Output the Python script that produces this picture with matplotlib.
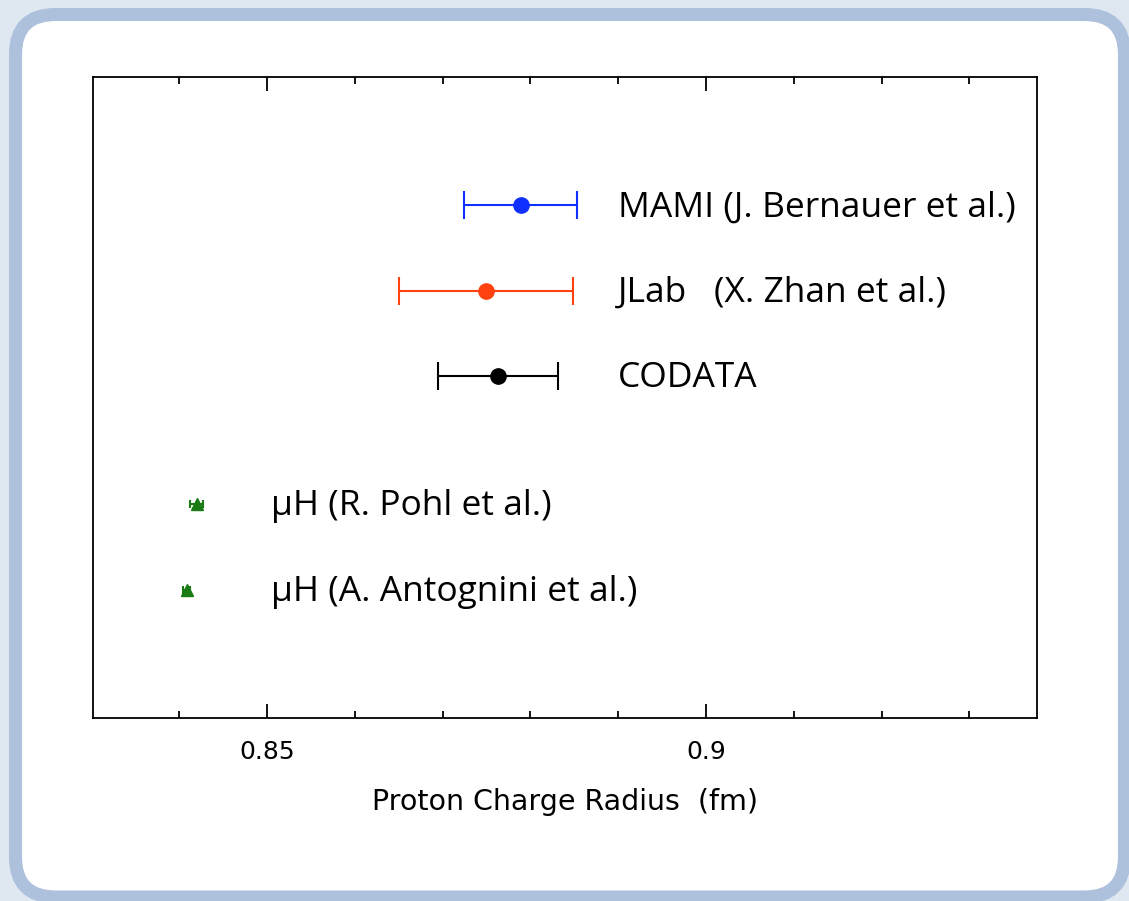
import numpy as np
import matplotlib
matplotlib.use('Agg')
import matplotlib.pyplot as plt
from matplotlib.patches import FancyBboxPatch
from matplotlib.ticker import MultipleLocator

# proton charge radius measurements (fm)
labels = ['MAMI (J. Bernauer et al.)', 'JLab   (X. Zhan et al.)', 'CODATA',
          'µH (R. Pohl et al.)', 'µH (A. Antognini et al.)']
radius = [0.8789, 0.8750, 0.8763, 0.8420, 0.8409]
err = [0.0064, 0.0099, 0.0068, 0.0007, 0.0004]
rows = [6, 5, 4, 2.5, 1.5]
colors = ['#1030ff', '#ff4210', 'black', '#1a7a14', '#1a7a14']
markers = ['o', 'o', 'o', '^', '^']
label_x = [0.890, 0.890, 0.890, 0.8505, 0.8505]

fig = plt.figure(figsize=(11.29, 9.01), dpi=100)
fig.patch.set_facecolor('#dfe7f1')

# rounded white panel behind the plot
bg = fig.add_axes([0, 0, 1, 1], zorder=0)
bg.set_xlim(0, 1129)
bg.set_ylim(0, 901)
bg.axis('off')
bg.add_patch(FancyBboxPatch((15.5, 4), 1109, 882.5,
                            boxstyle='round,pad=0,rounding_size=40',
                            facecolor='white', edgecolor='#adc0dc', lw=9.4))

ax = fig.add_axes([0.0824, 0.2031, 0.8361, 0.7114], zorder=1)
ax.patch.set_alpha(0)

for x, e, y, c, m in zip(radius, err, rows, colors, markers):
    ms = 11 if m == 'o' else 9
    ax.errorbar(x, y, xerr=e, fmt=m, color=c, ms=ms, lw=1.5,
                capsize=10 if m == 'o' else 3, capthick=1.5)

for x, y, t in zip(label_x, rows, labels):
    ax.text(x, y - 0.13, t, fontsize=25.5, family='Open Sans', va='baseline')

ax.set_xlim(0.8302, 0.9377)
ax.set_ylim(0, 7.5)
ax.set_yticks([])
ax.xaxis.set_major_locator(MultipleLocator(0.05))
ax.xaxis.set_minor_locator(MultipleLocator(0.01))
ax.set_xticks([0.85, 0.9])
ax.set_xticklabels(['0.85', '0.9'])
ax.tick_params(axis='x', which='both', direction='in', top=True,
               labelsize=18, width=1.3, pad=16)
ax.tick_params(axis='x', which='major', length=10)
ax.tick_params(axis='x', which='minor', length=5)
for s in ax.spines.values():
    s.set_linewidth(1.3)
ax.set_xlabel('Proton Charge Radius  (fm)', fontsize=20.5, labelpad=17)

fig.savefig('out.png', dpi=100, facecolor=fig.get_facecolor())
